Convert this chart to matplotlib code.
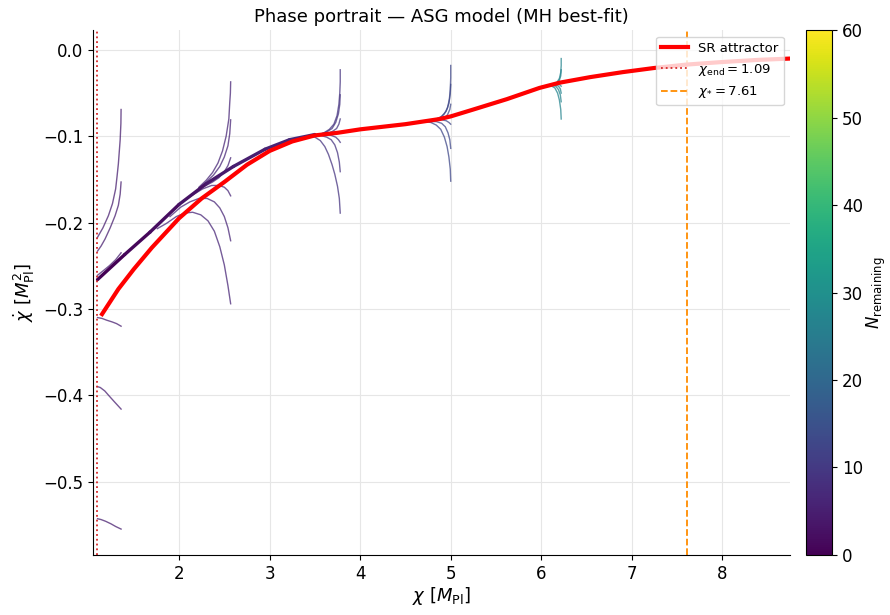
import numpy as np
import matplotlib
matplotlib.use("Agg")
import matplotlib.pyplot as plt
from matplotlib.collections import LineCollection

# slow-roll attractor
sr_x = [1.15, 1.33, 1.50, 1.70, 2.00, 2.25, 2.50, 2.75, 3.00, 3.25, 3.50, 3.75,
        4.00, 4.50, 4.88, 5.00, 5.25, 5.62, 5.98, 6.20, 6.54, 6.90, 7.24, 7.60,
        8.00, 8.40, 8.75]
sr_y = [-0.306, -0.277, -0.254, -0.229, -0.195, -0.172, -0.153, -0.133, -0.117,
        -0.106, -0.099, -0.096, -0.092, -0.086, -0.080, -0.077, -0.069, -0.057,
        -0.044, -0.038, -0.0315, -0.0257, -0.021, -0.017, -0.014, -0.0115, -0.010]

# bundle where trajectories have converged (end of inflation side)
bundle_x = [1.10, 1.40, 1.68, 2.00, 2.30, 2.60, 2.95, 3.22, 3.50]
bundle_y = [-0.266, -0.237, -0.211, -0.179, -0.155, -0.135, -0.115, -0.104, -0.098]
bundle_N = [0.0, 1.0, 2.0, 3.0, 4.0, 5.0, 6.0, 7.0, 8.0]

# perturbed trajectories, grouped by starting field value
grpA_x = [[1.36, 1.358, 1.35, 1.34, 1.33, 1.315, 1.30, 1.265, 1.22, 1.16, 1.10],
          [1.36, 1.35, 1.33, 1.294, 1.24, 1.183, 1.14, 1.10],
          [1.36, 1.30, 1.23, 1.16, 1.10],
          [1.36, 1.31, 1.26, 1.20, 1.15, 1.10],
          [1.36, 1.29, 1.23, 1.18, 1.13, 1.10],
          [1.36, 1.30, 1.25, 1.19, 1.14, 1.10]]
grpA_y = [[-0.069, -0.085, -0.104, -0.118, -0.132, -0.147, -0.161, -0.178, -0.192, -0.206, -0.217],
          [-0.153, -0.167, -0.180, -0.192, -0.206, -0.219, -0.227, -0.233],
          [-0.235, -0.243, -0.250, -0.256, -0.261],
          [-0.320, -0.317, -0.315, -0.313, -0.311, -0.310],
          [-0.416, -0.408, -0.401, -0.395, -0.391, -0.390],
          [-0.555, -0.552, -0.549, -0.546, -0.544, -0.543]]

grpB_x = [[2.57, 2.567, 2.56, 2.55, 2.52, 2.48, 2.43, 2.37, 2.30, 2.22],
          [2.57, 2.56, 2.54, 2.50, 2.45, 2.38, 2.30, 2.22],
          [2.57, 2.54, 2.50, 2.44, 2.37, 2.28, 2.20],
          [2.57, 2.54, 2.50, 2.44, 2.36, 2.26, 2.15, 2.05],
          [2.57, 2.54, 2.50, 2.45, 2.39, 2.31, 2.22, 2.12, 2.02, 1.90],
          [2.57, 2.54, 2.50, 2.45, 2.39, 2.32, 2.24, 2.15, 2.06, 1.97, 1.86, 1.76]]
grpB_y = [[-0.037, -0.050, -0.061, -0.080, -0.100, -0.117, -0.131, -0.142, -0.151, -0.159],
          [-0.081, -0.097, -0.111, -0.124, -0.135, -0.145, -0.153, -0.160],
          [-0.125, -0.134, -0.141, -0.148, -0.153, -0.158, -0.163],
          [-0.169, -0.163, -0.159, -0.157, -0.157, -0.161, -0.168, -0.175],
          [-0.221, -0.206, -0.193, -0.183, -0.176, -0.172, -0.172, -0.176, -0.182, -0.193],
          [-0.294, -0.273, -0.249, -0.228, -0.210, -0.198, -0.191, -0.188, -0.189, -0.193, -0.201, -0.207]]

grpC_x = [[3.78, 3.78, 3.775, 3.765, 3.745, 3.71, 3.66, 3.60, 3.52],
          [3.78, 3.775, 3.76, 3.73, 3.69, 3.63, 3.55],
          [3.78, 3.765, 3.74, 3.70, 3.64, 3.56],
          [3.78, 3.76, 3.73, 3.68, 3.62, 3.55],
          [3.78, 3.77, 3.75, 3.72, 3.68, 3.63, 3.56],
          [3.78, 3.77, 3.75, 3.72, 3.69, 3.65, 3.61, 3.56, 3.50, 3.44]]
grpC_y = [[-0.023, -0.037, -0.050, -0.063, -0.076, -0.086, -0.092, -0.096, -0.099],
          [-0.052, -0.063, -0.074, -0.084, -0.091, -0.095, -0.098],
          [-0.080, -0.086, -0.091, -0.094, -0.097, -0.099],
          [-0.107, -0.104, -0.101, -0.099, -0.098, -0.099],
          [-0.141, -0.130, -0.119, -0.110, -0.104, -0.101, -0.099],
          [-0.189, -0.172, -0.158, -0.144, -0.133, -0.121, -0.112, -0.105, -0.101, -0.100]]

grpD_x = [[5.00, 5.00, 4.995, 4.985, 4.965, 4.93, 4.88, 4.82, 4.75],
          [5.00, 4.995, 4.98, 4.95, 4.90, 4.84, 4.77],
          [5.00, 4.99, 4.965, 4.93, 4.87, 4.79],
          [5.00, 4.98, 4.95, 4.90, 4.84, 4.77],
          [5.00, 4.99, 4.97, 4.94, 4.90, 4.84, 4.77],
          [5.00, 4.995, 4.98, 4.96, 4.93, 4.89, 4.84, 4.78, 4.70]]
grpD_y = [[-0.018, -0.032, -0.046, -0.057, -0.067, -0.074, -0.079, -0.081, -0.083],
          [-0.040, -0.051, -0.062, -0.071, -0.077, -0.080, -0.082],
          [-0.063, -0.069, -0.075, -0.079, -0.081, -0.083],
          [-0.086, -0.084, -0.082, -0.081, -0.081, -0.083],
          [-0.114, -0.104, -0.096, -0.089, -0.085, -0.083, -0.083],
          [-0.152, -0.138, -0.124, -0.112, -0.101, -0.092, -0.087, -0.084, -0.083]]

grpE_x = [[6.22, 6.22, 6.215, 6.20, 6.17, 6.12],
          [6.22, 6.215, 6.20, 6.17, 6.12],
          [6.22, 6.20, 6.16, 6.11],
          [6.22, 6.21, 6.19, 6.15, 6.10],
          [6.22, 6.21, 6.19, 6.16, 6.11],
          [6.22, 6.215, 6.20, 6.18, 6.15, 6.10]]
grpE_y = [[-0.010, -0.018, -0.026, -0.033, -0.038, -0.040],
          [-0.023, -0.030, -0.035, -0.039, -0.041],
          [-0.042, -0.040, -0.040, -0.041],
          [-0.050, -0.045, -0.042, -0.040, -0.041],
          [-0.060, -0.052, -0.046, -0.042, -0.041],
          [-0.080, -0.069, -0.058, -0.050, -0.044, -0.041]]

groups_x = [grpA_x, grpB_x, grpC_x, grpD_x, grpE_x]
groups_y = [grpA_y, grpB_y, grpC_y, grpD_y, grpE_y]
groups_N = [5.0, 6.5, 9.0, 13.0, 27.0]

chi_end = 1.09
chi_star = 7.61

cmap = plt.get_cmap("viridis")
norm = plt.Normalize(0, 60)

fig = plt.figure(figsize=(8.9, 6.15), dpi=100)
ax = fig.add_axes([0.1045, 0.0976, 0.7835, 0.8535])
cax = fig.add_axes([0.906, 0.0976, 0.029, 0.8535])

for gx, gy, n in zip(groups_x, groups_y, groups_N):
    for tx, ty in zip(gx, gy):
        ax.plot(tx, ty, color=cmap(norm(n)), lw=1.0, alpha=0.75, zorder=2)

pts = np.column_stack([bundle_x, bundle_y]).reshape(-1, 1, 2)
segs = np.concatenate([pts[:-1], pts[1:]], axis=1)
lc = LineCollection(segs, cmap=cmap, norm=norm, lw=2.4, zorder=2,
                    capstyle="round", joinstyle="round")
lc.set_array(np.array(bundle_N[:-1]))
ax.add_collection(lc)

ax.plot(sr_x, sr_y, color="red", lw=3, label="SR attractor", zorder=3,
        solid_joinstyle="round")
ax.axvline(chi_end, color="#d62728", ls=":", lw=1.3, label=r"$\chi_{\rm end}=1.09$")
ax.axvline(chi_star, color="darkorange", ls="--", lw=1.3, label=r"$\chi_{*}=7.61$")

ax.set_xlim(1.05, 8.75)
ax.set_ylim(-0.585, 0.023)
ax.set_xticks([2, 3, 4, 5, 6, 7, 8])
ax.set_yticks([0.0, -0.1, -0.2, -0.3, -0.4, -0.5])
ax.tick_params(labelsize=12)
ax.grid(True, color="#e6e6e6", lw=0.8)
ax.set_axisbelow(True)
ax.spines["top"].set_visible(False)
ax.spines["right"].set_visible(False)
ax.set_xlabel(r"$\chi\ [M_{\rm Pl}]$", fontsize=13, labelpad=2)
ax.set_ylabel(r"$\dot{\chi}\ [M_{\rm Pl}^2]$", fontsize=13)
ax.set_title("Phase portrait — ASG model (MH best-fit)", fontsize=13)
ax.legend(loc="upper right", fontsize=9.5, framealpha=0.8)

sm = plt.cm.ScalarMappable(cmap=cmap, norm=norm)
cb = fig.colorbar(sm, cax=cax)
cb.set_ticks([0, 10, 20, 30, 40, 50, 60])
cb.ax.tick_params(labelsize=12)
cb.set_label(r"$N_{\rm remaining}$", fontsize=12, labelpad=1)

fig.savefig("out.png", dpi=100)
